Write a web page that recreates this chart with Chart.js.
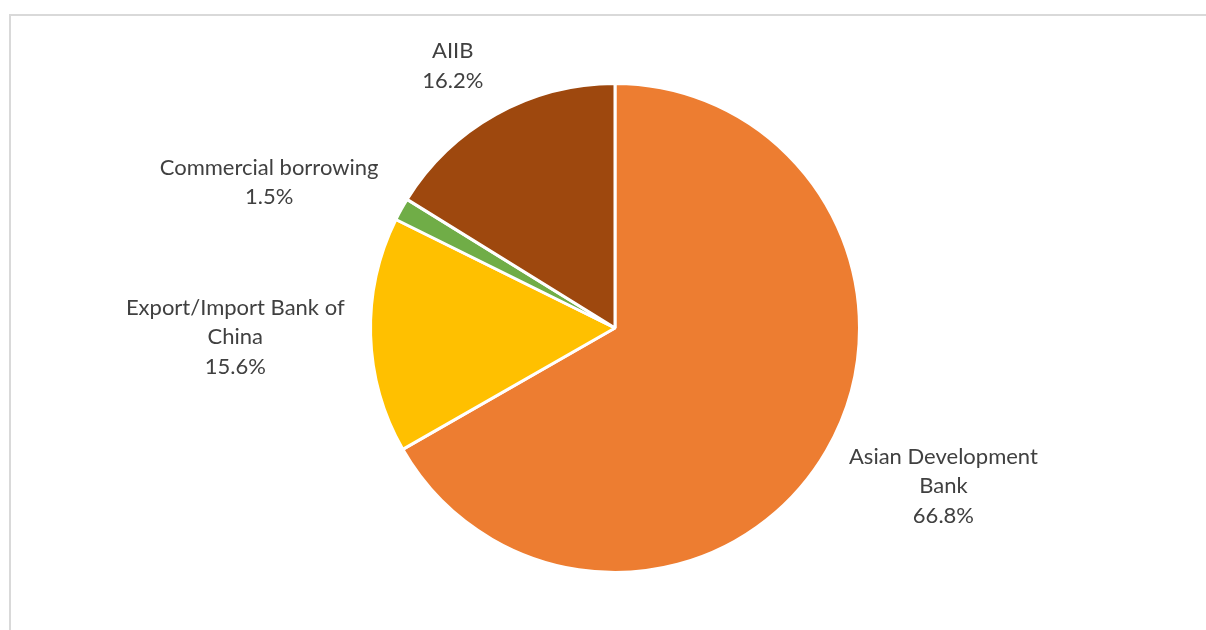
<!DOCTYPE html>
<html>
<head>
<meta charset="utf-8">
<script src="https://cdn.jsdelivr.net/npm/chart.js@4.4.1/dist/chart.umd.min.js"></script>
<style>
  html, body { margin: 0; padding: 0; background: #fff; overflow: hidden; }
  #frame {
    position: absolute; left: 9px; top: 14px; width: 1200px; height: 700px;
    border: 2px solid #d9d9d9; box-sizing: border-box;
  }
  #wrap { position: absolute; left: 0; top: 0; width: 1206px; height: 630px; }
</style>
</head>
<body>
<div id="frame"></div>
<div id="wrap"><canvas id="pie"></canvas></div>
<script>
// funding sources, clockwise from 12 o'clock
const sources = [
  ['Asian Development', 'Bank'],
  ['Export/Import Bank of', 'China'],
  ['Commercial borrowing'],
  ['AIIB']
]
const shares = [66.8, 15.6, 1.5, 16.2]
const sliceColors = ['#ed7d31', '#ffc000', '#70ad47', '#9e480e']

const labelFont = '22px Lato, "Open Sans", sans-serif'
const lineHeight = 29.5
const labelGap = 26

// outside labels: name lines plus percentage, pushed out along each slice's middle
const outsideLabels = {
  id: 'outsideLabels',
  afterDatasetsDraw (chart) {
    const ctx = chart.ctx
    const meta = chart.getDatasetMeta(0)
    ctx.save()
    ctx.font = labelFont
    ctx.fillStyle = '#404040'
    ctx.textAlign = 'center'
    ctx.textBaseline = 'middle'
    meta.data.forEach((arc, i) => {
      const lines = sources[i].concat([shares[i].toFixed(1) + '%'])
      const w = Math.max(...lines.map(l => ctx.measureText(l).width))
      const h = lines.length * lineHeight
      const mid = (arc.startAngle + arc.endAngle) / 2
      const cos = Math.cos(mid)
      const sin = Math.sin(mid)
      const r = arc.outerRadius + labelGap
      const cx = arc.x + r * cos + Math.sign(cos) * w / 2
      const cy = arc.y + r * sin + sin * h / 2
      lines.forEach((l, k) => {
        ctx.fillText(l, cx, cy - h / 2 + lineHeight * (k + 0.5))
      })
    })
    ctx.restore()
  }
}

new Chart(document.getElementById('pie'), {
  type: 'pie',
  data: {
    labels: sources.map(s => s.join(' ')),
    datasets: [{
      data: shares,
      backgroundColor: sliceColors,
      borderColor: '#ffffff',
      borderWidth: 3
    }]
  },
  options: {
    responsive: true,
    maintainAspectRatio: false,
    animation: false,
    layout: { padding: { left: 24, right: 0, top: 82, bottom: 56 } },
    plugins: {
      legend: { display: false },
      tooltip: { enabled: false }
    }
  },
  plugins: [outsideLabels]
})
</script>
</body>
</html>
